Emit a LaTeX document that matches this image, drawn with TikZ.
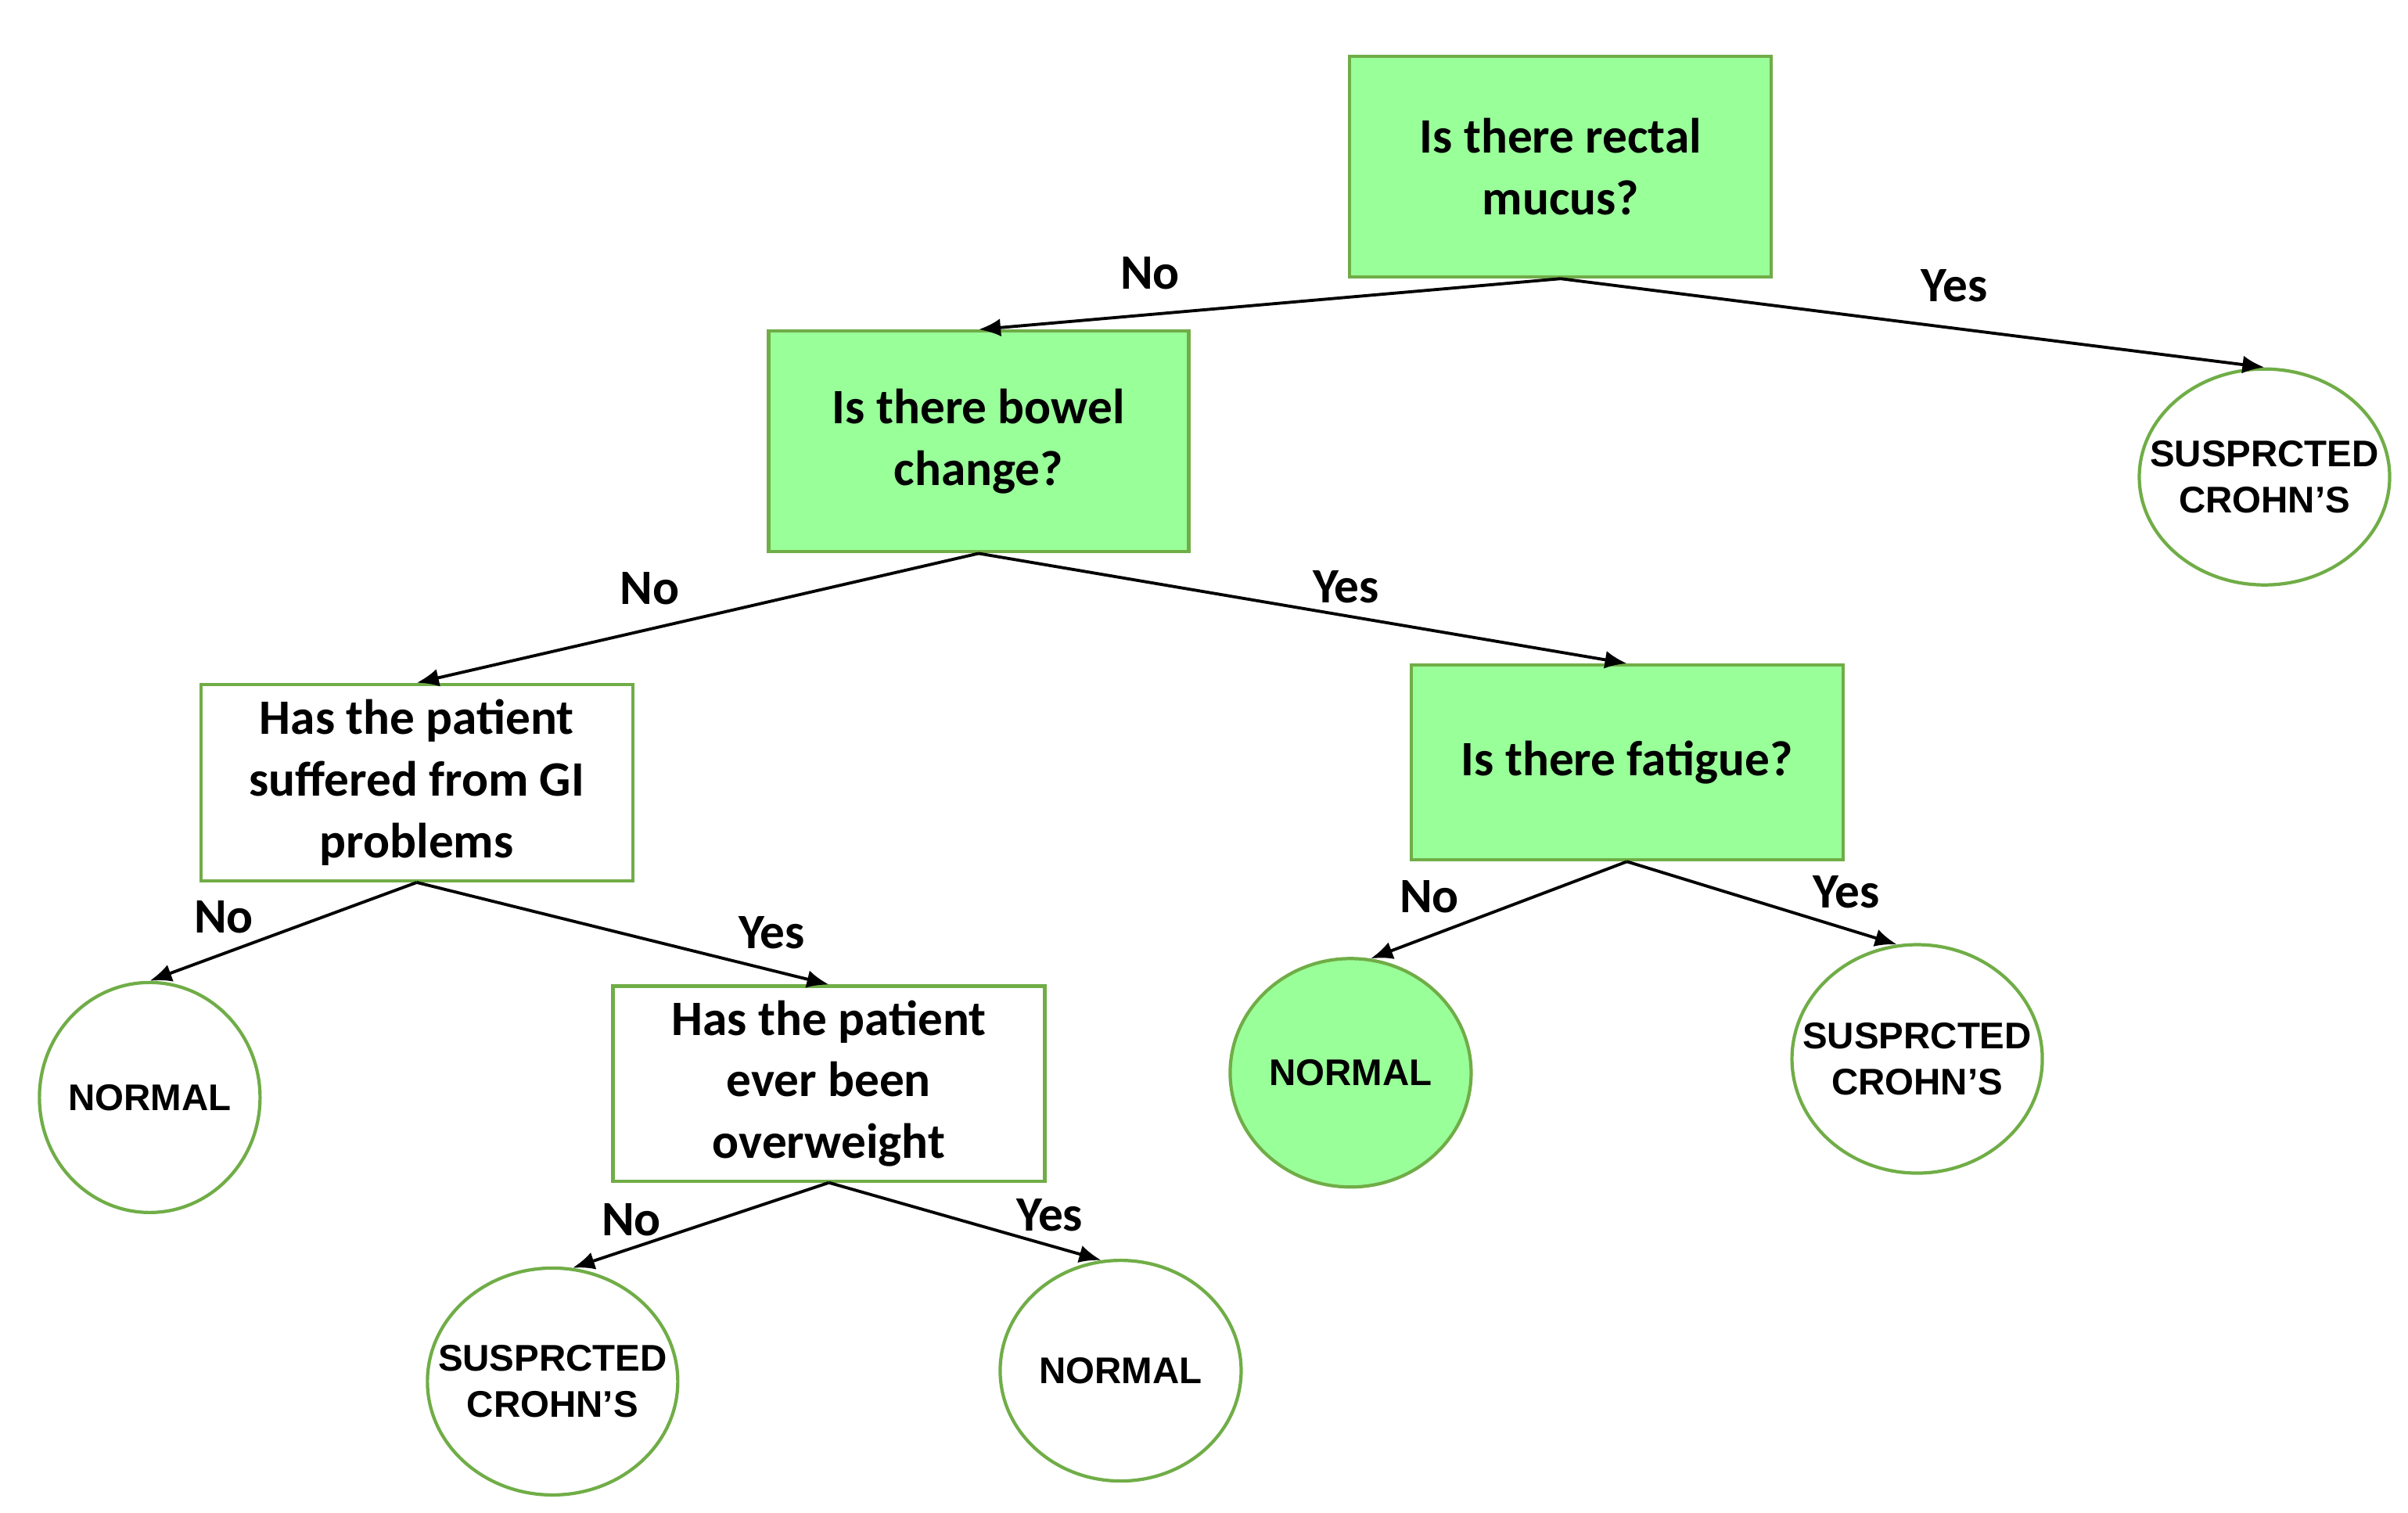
\documentclass[tikz,border=0pt]{standalone}
\usepackage{fontspec}
\setmainfont{Carlito}
\newfontfamily\leaffont{Liberation Sans}
\usetikzlibrary{shapes.geometric,arrows.meta}
\definecolor{boxgreen}{HTML}{99FF99}
\definecolor{linegreen}{HTML}{70AD47}

\begin{document}
\begin{tikzpicture}[x=0.01973cm,y=-0.01973cm,font=\bfseries\fontsize{18}{22.4}\selectfont]
	\tikzstyle{question}=[rectangle,draw=linegreen,line width=1.2pt,align=center,inner sep=0pt]
	\tikzstyle{green question}=[question,fill=boxgreen]
	\tikzstyle{outcome}=[ellipse,draw=linegreen,line width=1.2pt,align=center,inner ysep=0pt,inner xsep=-0.4cm,font=\leaffont\bfseries\fontsize{13.5}{16.8}\selectfont]
	\tikzstyle{green outcome}=[outcome,fill=boxgreen]
	\tikzstyle{branch}=[-{Latex[length=8pt,width=6.5pt]},black,line width=1.1pt]
	\tikzstyle{annot}=[inner sep=0pt]

	\useasboundingbox (0,0) rectangle (1560,980);

	% Draw the question boxes
	\node[green question, minimum width=5.39cm, minimum height=2.82cm] (Q-1) at (1011,108) {Is there rectal\\mucus?};
	\node[green question, minimum width=5.37cm, minimum height=2.82cm] (Q-2) at (634,286) {Is there bowel\\change?};
	\node[question, minimum width=5.52cm, minimum height=2.51cm] (Q-3) at (270,507) {Has the patient\\suffered from GI\\problems};
	\node[green question, minimum width=5.52cm, minimum height=2.49cm] (Q-4) at (1054,494) {Is there fatigue?};
	\node[question, minimum width=5.52cm, minimum height=2.49cm] (Q-5) at (537,702) {Has the patient\\ever been\\overweight};

	% Draw the outcome ellipses
	\node[outcome, minimum width=3.20cm, minimum height=2.76cm] (O-1) at (1467,309) {SUSPRCTED\\CROHN’S};
	\node[outcome, minimum width=2.82cm, minimum height=2.94cm] (O-2) at (97,711) {NORMAL};
	\node[green outcome, minimum width=3.08cm, minimum height=2.92cm] (O-3) at (875,695) {NORMAL};
	\node[outcome, minimum width=3.20cm, minimum height=2.92cm] (O-4) at (1242,686) {SUSPRCTED\\CROHN’S};
	\node[outcome, minimum width=3.20cm, minimum height=2.90cm] (O-5) at (358,895) {SUSPRCTED\\CROHN’S};
	\node[outcome, minimum width=3.08cm, minimum height=2.82cm] (O-6) at (726,888) {NORMAL};

	% Connect every question with its answers
	\draw[branch] (Q-1.south) -- (Q-2.north);
	\draw[branch] (Q-1.south) -- (O-1.north);
	\draw[branch] (Q-2.south) -- (Q-3.north);
	\draw[branch] (Q-2.south) -- (Q-4.north);
	\draw[branch] (Q-3.south) -- (O-2.north);
	\draw[branch] (Q-3.south) -- (Q-5.north);
	\draw[branch] (Q-4.south) -- (O-3.80);
	\draw[branch] (Q-4.south) -- (O-4.100);
	\draw[branch] (Q-5.south) -- (O-5.80);
	\draw[branch] (Q-5.south) -- (O-6.100);

	% Annotate the branches
	\node[annot] (A-1) at (745,177) {No};
	\node[annot] (A-2) at (1266,185) {Yes};
	\node[annot] (A-3) at (421,381) {No};
	\node[annot] (A-4) at (872,380) {Yes};
	\node[annot] (A-5) at (145,594) {No};
	\node[annot] (A-6) at (500,604) {Yes};
	\node[annot] (A-7) at (926,581) {No};
	\node[annot] (A-8) at (1196,578) {Yes};
	\node[annot] (A-9) at (409,790) {No};
	\node[annot] (A-10) at (680,787) {Yes};

\end{tikzpicture}
\end{document}
